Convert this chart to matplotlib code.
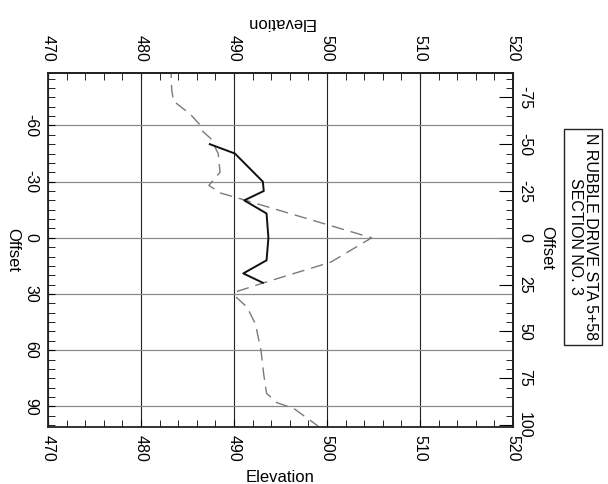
import numpy as np
import matplotlib.pyplot as plt
from matplotlib.ticker import MultipleLocator

plt.rcParams['font.family'] = ['Liberation Sans', 'DejaVu Sans']
plt.rcParams['axes.unicode_minus'] = False

# section data (offset, elevation)
prop_offset = [-50, -45, -30, -25, -20, -13, 0, 12, 19, 24]
prop_elev = [487.4, 490.1, 493.1, 493.2, 491.1, 493.5, 493.7, 493.5, 491.0, 493.1]

exist_offset = [-92, -79, -73, -66, -60, -57, -53, -45, -35, -28, -24, -22,
                0, 13, 24, 29, 32, 37, 46, 60, 73, 83, 88, 91, 100, 104]
exist_elev = [483.2, 483.3, 483.5, 485.3, 486.4, 486.6, 487.5, 488.3, 488.5, 487.3, 488.5, 489.9,
              504.8, 500.4, 493.2, 490.1, 490.3, 491.4, 492.3, 492.9, 493.2, 493.5, 494.6, 496.4, 498.9, 499.6]

elev_ticks = [470, 480, 490, 500, 510, 520]
left_ticks = [-60, -30, 0, 30, 60, 90]
right_ticks = [-75, -50, -25, 0, 25, 50, 75, 100]

fig = plt.figure(figsize=(6.08, 4.84), dpi=100)
ax = fig.add_axes([48/608, 1 - 427/484, 465/608, 354/484])

ax.plot(exist_elev, exist_offset, color='#7a7a7a', lw=1.0, dashes=(9, 5))
ax.plot(prop_elev, prop_offset, color='#111111', lw=1.4)

ax.set_xlim(470, 520)
ax.set_ylim(101, -88)

ax.set_xticks(elev_ticks)
ax.xaxis.set_minor_locator(MultipleLocator(2))
ax.set_yticks(left_ticks)
ax.yaxis.set_minor_locator(MultipleLocator(5))
ax.xaxis.grid(True, color='#222222', lw=0.8)
ax.yaxis.grid(True, color='#8a8a8a', lw=0.9)

ax.tick_params(axis='x', which='both', direction='in', labelsize=11.5, labelrotation=270, pad=6)
ax.tick_params(axis='y', which='both', direction='in', labelsize=11.5, labelrotation=270, pad=7)
ax.tick_params(which='major', length=5)
ax.tick_params(which='minor', length=5)
for lbl in ax.get_yticklabels():
    lbl.set_va('center')

top = ax.secondary_xaxis('top')
top.set_xticks(elev_ticks)
top.xaxis.set_minor_locator(MultipleLocator(2))
top.tick_params(which='both', direction='in', length=5, labelsize=11.5, labelrotation=270, pad=8)

right = ax.secondary_yaxis('right')
right.set_yticks(right_ticks)
right.yaxis.set_minor_locator(MultipleLocator(5))
right.tick_params(which='major', direction='in', length=10, labelsize=11.5, labelrotation=270, pad=3)
right.tick_params(which='minor', direction='in', length=5)
for lbl in right.get_yticklabels():
    lbl.set_va('center')

for a in [ax, top, right]:
    for sp in a.spines.values():
        sp.set_linewidth(1.3)
        sp.set_color('#222222')

fig.text(280/608, 1 - 477/484, 'Elevation', fontsize=12, ha='center', va='center')
fig.text(280/608, 1 - 22/484, 'Elevation', fontsize=12, ha='center', va='center', rotation=180)
fig.text(13/608, 1 - 250/484, 'Offset', fontsize=12, ha='center', va='center', rotation=270)
fig.text(547/608, 1 - 248/484, 'Offset', fontsize=12, ha='center', va='center', rotation=270)

fig.text(583/608, 1 - 237/484, 'N RUBBLE DRIVE STA 5+58\nSECTION NO. 3', fontsize=11.5,
         ha='center', va='center', rotation=270, multialignment='center', linespacing=1.0,
         bbox=dict(boxstyle='square,pad=0.25', fc='white', ec='#222222', lw=1.0))

fig.savefig('out.png', dpi=100)
